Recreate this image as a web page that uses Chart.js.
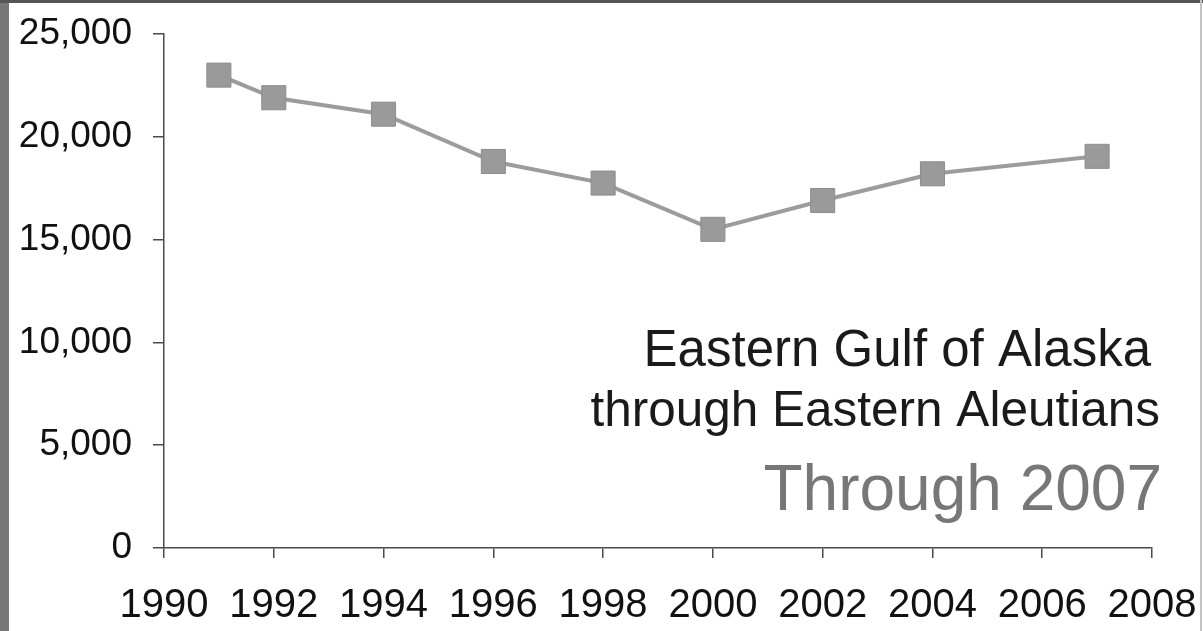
<!DOCTYPE html>
<html>
<head>
<meta charset="utf-8">
<script src="https://cdn.jsdelivr.net/npm/chart.js@4/dist/chart.umd.min.js"></script>
<style>
  html, body { margin: 0; padding: 0; background: #fff; }
  #wrap { position: relative; width: 1203px; height: 631px; overflow: hidden; }
  canvas { display: block; }
</style>
</head>
<body>
<div id="wrap"><canvas id="c" width="1203" height="631"></canvas></div>
<script>
// Survey years and counts
const years = [1991, 1992, 1994, 1996, 1998, 2000, 2002, 2004, 2007];
const counts = [23000, 21900, 21100, 18800, 17750, 15500, 16900, 18200, 19050];

// Axis ranges
const xRange = [1990, 2008];
const xStep = 2;
const yRange = [0, 25000];
const yStep = 5000;

// Caption lines
const captionLines = [
  'Eastern Gulf of Alaska',
  'through Eastern Aleutians',
  'Through 2007'
];

const FONT = '"Liberation Sans", Arial, Helvetica, sans-serif';

// Page frame: dark edge on the left, thin dark strip on top, faint line at right
const framePlugin = {
  id: 'frame',
  beforeDraw(chart) {
    const ctx = chart.ctx;
    ctx.save();
    ctx.fillStyle = '#ffffff';
    ctx.fillRect(0, 0, chart.width, chart.height);
    ctx.restore();
  },
  afterDraw(chart) {
    const ctx = chart.ctx;
    ctx.save();
    ctx.fillStyle = '#777777';
    ctx.fillRect(0, 0, 9, chart.height);
    ctx.fillStyle = '#555555';
    ctx.fillRect(0, 0, chart.width, 3);
    ctx.fillStyle = '#c4c4c4';
    ctx.fillRect(chart.width - 3, 0, 2, chart.height);
    ctx.restore();
  }
};

// Caption drawn in the lower right of the plot
const captionPlugin = {
  id: 'caption',
  afterDatasetsDraw(chart) {
    const ctx = chart.ctx;
    ctx.save();
    ctx.textAlign = 'right';
    ctx.textBaseline = 'alphabetic';
    ctx.fillStyle = '#1a1a1a';
    ctx.font = '51px ' + FONT;
    ctx.fillText(captionLines[0], 1151, 366);
    ctx.font = '49.5px ' + FONT;
    ctx.fillText(captionLines[1], 1160, 426);
    ctx.fillStyle = '#777777';
    ctx.font = '64px ' + FONT;
    ctx.fillText(captionLines[2], 1162, 510);
    ctx.restore();
  }
};

const points = years.map((y, i) => ({ x: y, y: counts[i] }));

new Chart(document.getElementById('c'), {
  type: 'line',
  data: {
    datasets: [{
      data: points,
      borderColor: '#9c9c9c',
      borderWidth: 4,
      pointStyle: 'rect',
      pointRadius: 17,
      pointBackgroundColor: '#9a9a9a',
      pointBorderColor: '#8c8c8c',
      pointBorderWidth: 1,
      tension: 0,
      fill: false
    }]
  },
  options: {
    responsive: false,
    animation: false,
    locale: 'en-US',
    layout: { padding: { top: 34, right: 51, left: 0, bottom: 0 } },
    plugins: {
      legend: { display: false },
      tooltip: { enabled: false }
    },
    scales: {
      x: {
        type: 'linear',
        min: xRange[0],
        max: xRange[1],
        border: { display: true, color: '#4a4a4a', width: 1.5 },
        grid: { drawOnChartArea: false, drawTicks: true, tickLength: 10, color: '#4a4a4a', lineWidth: 1.5 },
        ticks: {
          stepSize: xStep,
          autoSkip: false,
          maxRotation: 0,
          padding: 24,
          color: '#111111',
          font: { family: FONT, size: 40 },
          callback: (v) => String(v)
        },
        afterFit(scale) {
          scale.height = 83;
          scale.paddingLeft = 0;
          scale.paddingRight = 0;
        }
      },
      y: {
        min: yRange[0],
        max: yRange[1],
        border: { display: true, color: '#4a4a4a', width: 1.5 },
        grid: { drawOnChartArea: false, drawTicks: true, tickLength: 11, color: '#4a4a4a', lineWidth: 1.5 },
        ticks: {
          stepSize: yStep,
          padding: 21,
          color: '#111111',
          font: { family: FONT, size: 37 }
        },
        afterFit(scale) {
          scale.width = 164;
          scale.paddingTop = 0;
          scale.paddingBottom = 0;
        }
      }
    }
  },
  plugins: [framePlugin, captionPlugin]
});
</script>
</body>
</html>
